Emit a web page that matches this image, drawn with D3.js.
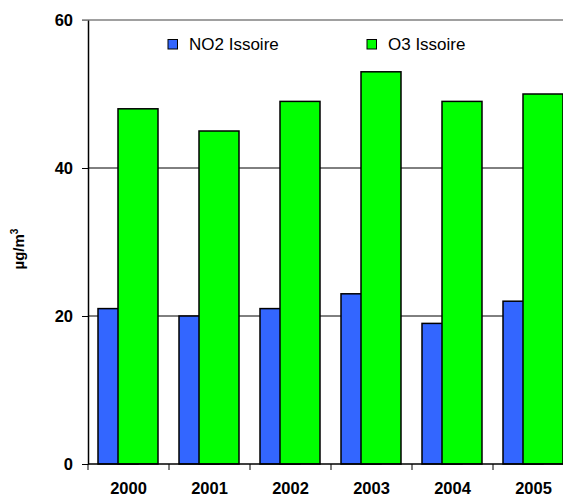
<!DOCTYPE html>
<html>
<head>
<meta charset="utf-8">
<script src="https://cdn.jsdelivr.net/npm/d3@7"></script>
<style>
  html, body { margin: 0; padding: 0; background: #fff; }
  svg { display: block; font-family: Arial, "Liberation Sans", sans-serif; }
</style>
</head>
<body>
<svg id="chart" width="563" height="497"></svg>
<script>
// Annual mean concentrations at Issoire (µg/m³)
const years = ["2000", "2001", "2002", "2003", "2004", "2005"];
const no2 = [21, 20, 21, 23, 19, 22];
const o3 = [48, 45, 49, 53, 49, 50];
const yTicks = [0, 20, 40, 60];
const seriesNames = ["NO2 Issoire", "O3 Issoire"];
const seriesColors = ["#3366FF", "#00FF00"];

const svg = d3.select("#chart");
const plot = { left: 88, right: 574, top: 20, bottom: 464 };

const x = d3.scaleBand().domain(years).range([plot.left, plot.right]).paddingInner(0).paddingOuter(0);
const y = d3.scaleLinear().domain([0, 60]).range([plot.bottom, plot.top]);

const bw = x.bandwidth();
const barW = bw * 40 / 81;
const groupOffset = bw * 10 / 81;
const overlapStep = barW / 2;

// gridlines
svg.append("g").selectAll("line")
  .data(yTicks.filter(d => d > 0 && d < 60))
  .join("line")
  .attr("x1", plot.left).attr("x2", plot.right)
  .attr("y1", d => y(d)).attr("y2", d => y(d))
  .attr("stroke", "#000").attr("stroke-width", 1);

// plot area top border
svg.append("line")
  .attr("x1", plot.left - 6).attr("x2", plot.right)
  .attr("y1", y(60)).attr("y2", y(60))
  .attr("stroke", "#808080").attr("stroke-width", 1.5);

// bars: NO2 first, O3 overlapping on top
const series = [no2, o3];
series.forEach((vals, si) => {
  svg.append("g").selectAll("rect")
    .data(years.map((yr, i) => ({ yr, v: vals[i] })))
    .join("rect")
    .attr("x", d => x(d.yr) + groupOffset + si * overlapStep)
    .attr("y", d => y(d.v))
    .attr("width", barW)
    .attr("height", d => y(0) - y(d.v))
    .attr("fill", seriesColors[si])
    .attr("stroke", "#000")
    .attr("stroke-width", 1.5);
});

// y axis
const yAxis = svg.append("g")
  .attr("transform", `translate(${plot.left},0)`)
  .call(d3.axisLeft(y).tickValues(yTicks).tickSize(6).tickPadding(9).tickSizeOuter(0));
yAxis.select(".domain").attr("stroke", "#000").attr("stroke-width", 1.5);
yAxis.selectAll(".tick line").attr("stroke", d => d === 60 ? "#808080" : "#000");
yAxis.selectAll(".tick text")
  .attr("font-size", "16.5px").attr("font-weight", "bold")
  .attr("font-family", "Arial, 'Liberation Sans', sans-serif").attr("fill", "#000");

// x axis with ticks at category boundaries
const xAxisG = svg.append("g").attr("transform", `translate(0,${plot.bottom})`);
xAxisG.append("line")
  .attr("x1", plot.left).attr("x2", plot.right)
  .attr("y1", 0).attr("y2", 0)
  .attr("stroke", "#000").attr("stroke-width", 1.5);
xAxisG.selectAll("line.bound")
  .data(years.map(yr => x(yr)))
  .join("line").attr("class", "bound")
  .attr("x1", d => d).attr("x2", d => d)
  .attr("y1", 0).attr("y2", 6)
  .attr("stroke", "#000");
xAxisG.selectAll("text")
  .data(years)
  .join("text")
  .attr("x", d => x(d) + bw / 2)
  .attr("y", 30)
  .attr("text-anchor", "middle")
  .attr("font-size", "16.5px").attr("font-weight", "bold")
  .attr("fill", "#000")
  .text(d => d);

// y axis title
const yt = svg.append("text")
  .attr("transform", `translate(24,249) rotate(-90)`)
  .attr("text-anchor", "middle")
  .attr("font-size", "15px").attr("font-weight", "bold")
  .attr("fill", "#000");
yt.append("tspan").text("µg/m");
yt.append("tspan").attr("dy", -6).attr("font-size", "10px").text("3");

// legend
const legendX = [168, 367];
const legend = svg.append("g");
seriesNames.forEach((name, i) => {
  legend.append("rect")
    .attr("x", legendX[i]).attr("y", 39.5)
    .attr("width", 9.5).attr("height", 9.5)
    .attr("fill", seriesColors[i]).attr("stroke", "#000").attr("stroke-width", 1);
  legend.append("text")
    .attr("x", legendX[i] + 21).attr("y", 50)
    .attr("font-size", "17px").attr("fill", "#000")
    .text(name);
});
</script>
</body>
</html>
